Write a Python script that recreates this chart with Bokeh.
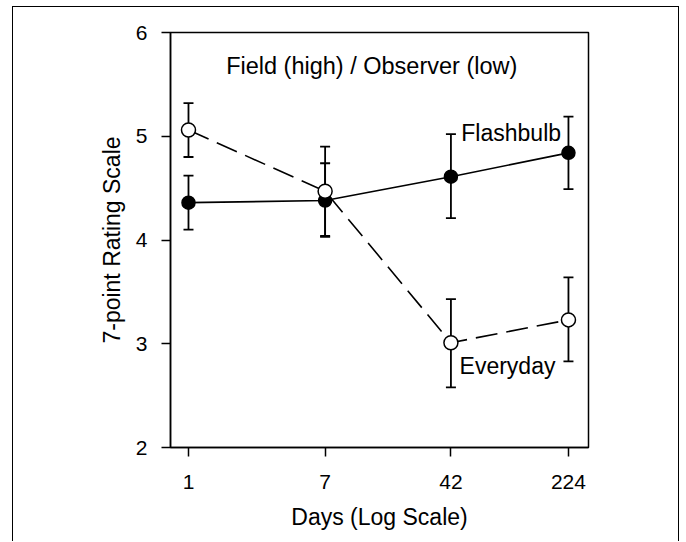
from bokeh.plotting import figure
from bokeh.models import ColumnDataSource, Whisker, TeeHead, FixedTicker, Label
from bokeh.embed import file_html
from bokeh.resources import INLINE

# ---- data ----
days = [1, 7, 42, 224]
x_tick_labels = ["1", "7", "42", "224"]
y_ticks = [2, 3, 4, 5, 6]

flash_mean = [4.36, 4.38, 4.61, 4.84]
flash_lo = [4.10, 4.03, 4.21, 4.49]
flash_hi = [4.62, 4.74, 5.02, 5.19]

every_mean = [5.06, 4.47, 3.01, 3.23]
every_lo = [4.80, 4.04, 2.58, 2.83]
every_hi = [5.32, 4.90, 3.43, 3.64]

FONT = "Liberation Sans"

flash = ColumnDataSource(dict(x=days, y=flash_mean, lo=flash_lo, hi=flash_hi))
every = ColumnDataSource(dict(x=days, y=every_mean, lo=every_lo, hi=every_hi))

p = figure(width=667, height=535, x_axis_type="log", x_range=(0.774, 298), y_range=(2, 6),
           output_backend="svg", toolbar_location=None,
           min_border_left=157, min_border_right=92, min_border_top=25, min_border_bottom=95)
p.styles = {"border-left": "1.5px solid black", "border-top": "1.5px solid black",
            "border-right": "1.5px solid black",
            "margin-left": "12px", "margin-top": "6px",
            "margin-right": "-20px", "margin-bottom": "-20px"}

p.xgrid.visible = False
p.ygrid.visible = False
p.outline_line_color = "black"
p.outline_line_width = 1.5
p.outline_line_alpha = 1.0
p.background_fill_color = "white"
p.border_fill_color = "white"

# axes
p.xaxis.ticker = FixedTicker(ticks=days, minor_ticks=[])
p.xaxis.major_label_overrides = {d: l for d, l in zip(days, x_tick_labels)}
p.yaxis.ticker = FixedTicker(ticks=y_ticks, minor_ticks=[])
for ax in (p.xaxis[0], p.yaxis[0]):
    ax.axis_line_color = "black"
    ax.axis_line_width = 1.5
    ax.major_tick_line_color = "black"
    ax.major_tick_line_width = 1.5
    ax.major_tick_in = 0
    ax.major_tick_out = 9
    ax.minor_tick_line_color = None
    ax.major_label_text_font = FONT
    ax.major_label_text_font_size = "21px"
    ax.major_label_text_color = "black"
    ax.axis_label_text_font = FONT
    ax.axis_label_text_font_size = "23px"
    ax.axis_label_text_font_style = "normal"
    ax.axis_label_text_color = "black"

p.xaxis.axis_label = "Days (Log Scale)"
p.yaxis.axis_label = "7-point Rating Scale"
p.xaxis.major_label_standoff = 18
p.xaxis.axis_label_standoff = 12
p.yaxis.major_label_standoff = 14
p.yaxis.axis_label_standoff = 8

# error bars
for src in (flash, every):
    w = Whisker(source=src, base="x", upper="hi", lower="lo",
                line_color="black", line_width=1.8, level="underlay",
                upper_head=TeeHead(size=10, line_color="black", line_width=1.8),
                lower_head=TeeHead(size=10, line_color="black", line_width=1.8))
    p.add_layout(w)

# lines
p.line("x", "y", source=flash, line_color="black", line_width=1.6)
p.line("x", "y", source=every, line_color="black", line_width=1.6, line_dash="22 9")

# markers
p.scatter("x", "y", source=flash, size=13, marker="circle",
          fill_color="black", line_color="black", line_width=1.5)
p.scatter("x", "y", source=every, size=14, marker="circle",
          fill_color="white", line_color="black", line_width=1.5)

# annotations
p.add_layout(Label(x=13.6, y=5.68, text="Field (high) / Observer (low)",
                   text_font=FONT, text_font_size="23.5px", text_color="black",
                   text_align="center", text_baseline="middle"))
p.add_layout(Label(x=48.7, y=5.036, text="Flashbulb",
                   text_font=FONT, text_font_size="23px", text_color="black",
                   text_align="left", text_baseline="middle"))
p.add_layout(Label(x=47.5, y=2.784, text="Everyday",
                   text_font=FONT, text_font_size="23px", text_color="black",
                   text_align="left", text_baseline="middle"))

open("out.html", "w").write(file_html(p, INLINE))
